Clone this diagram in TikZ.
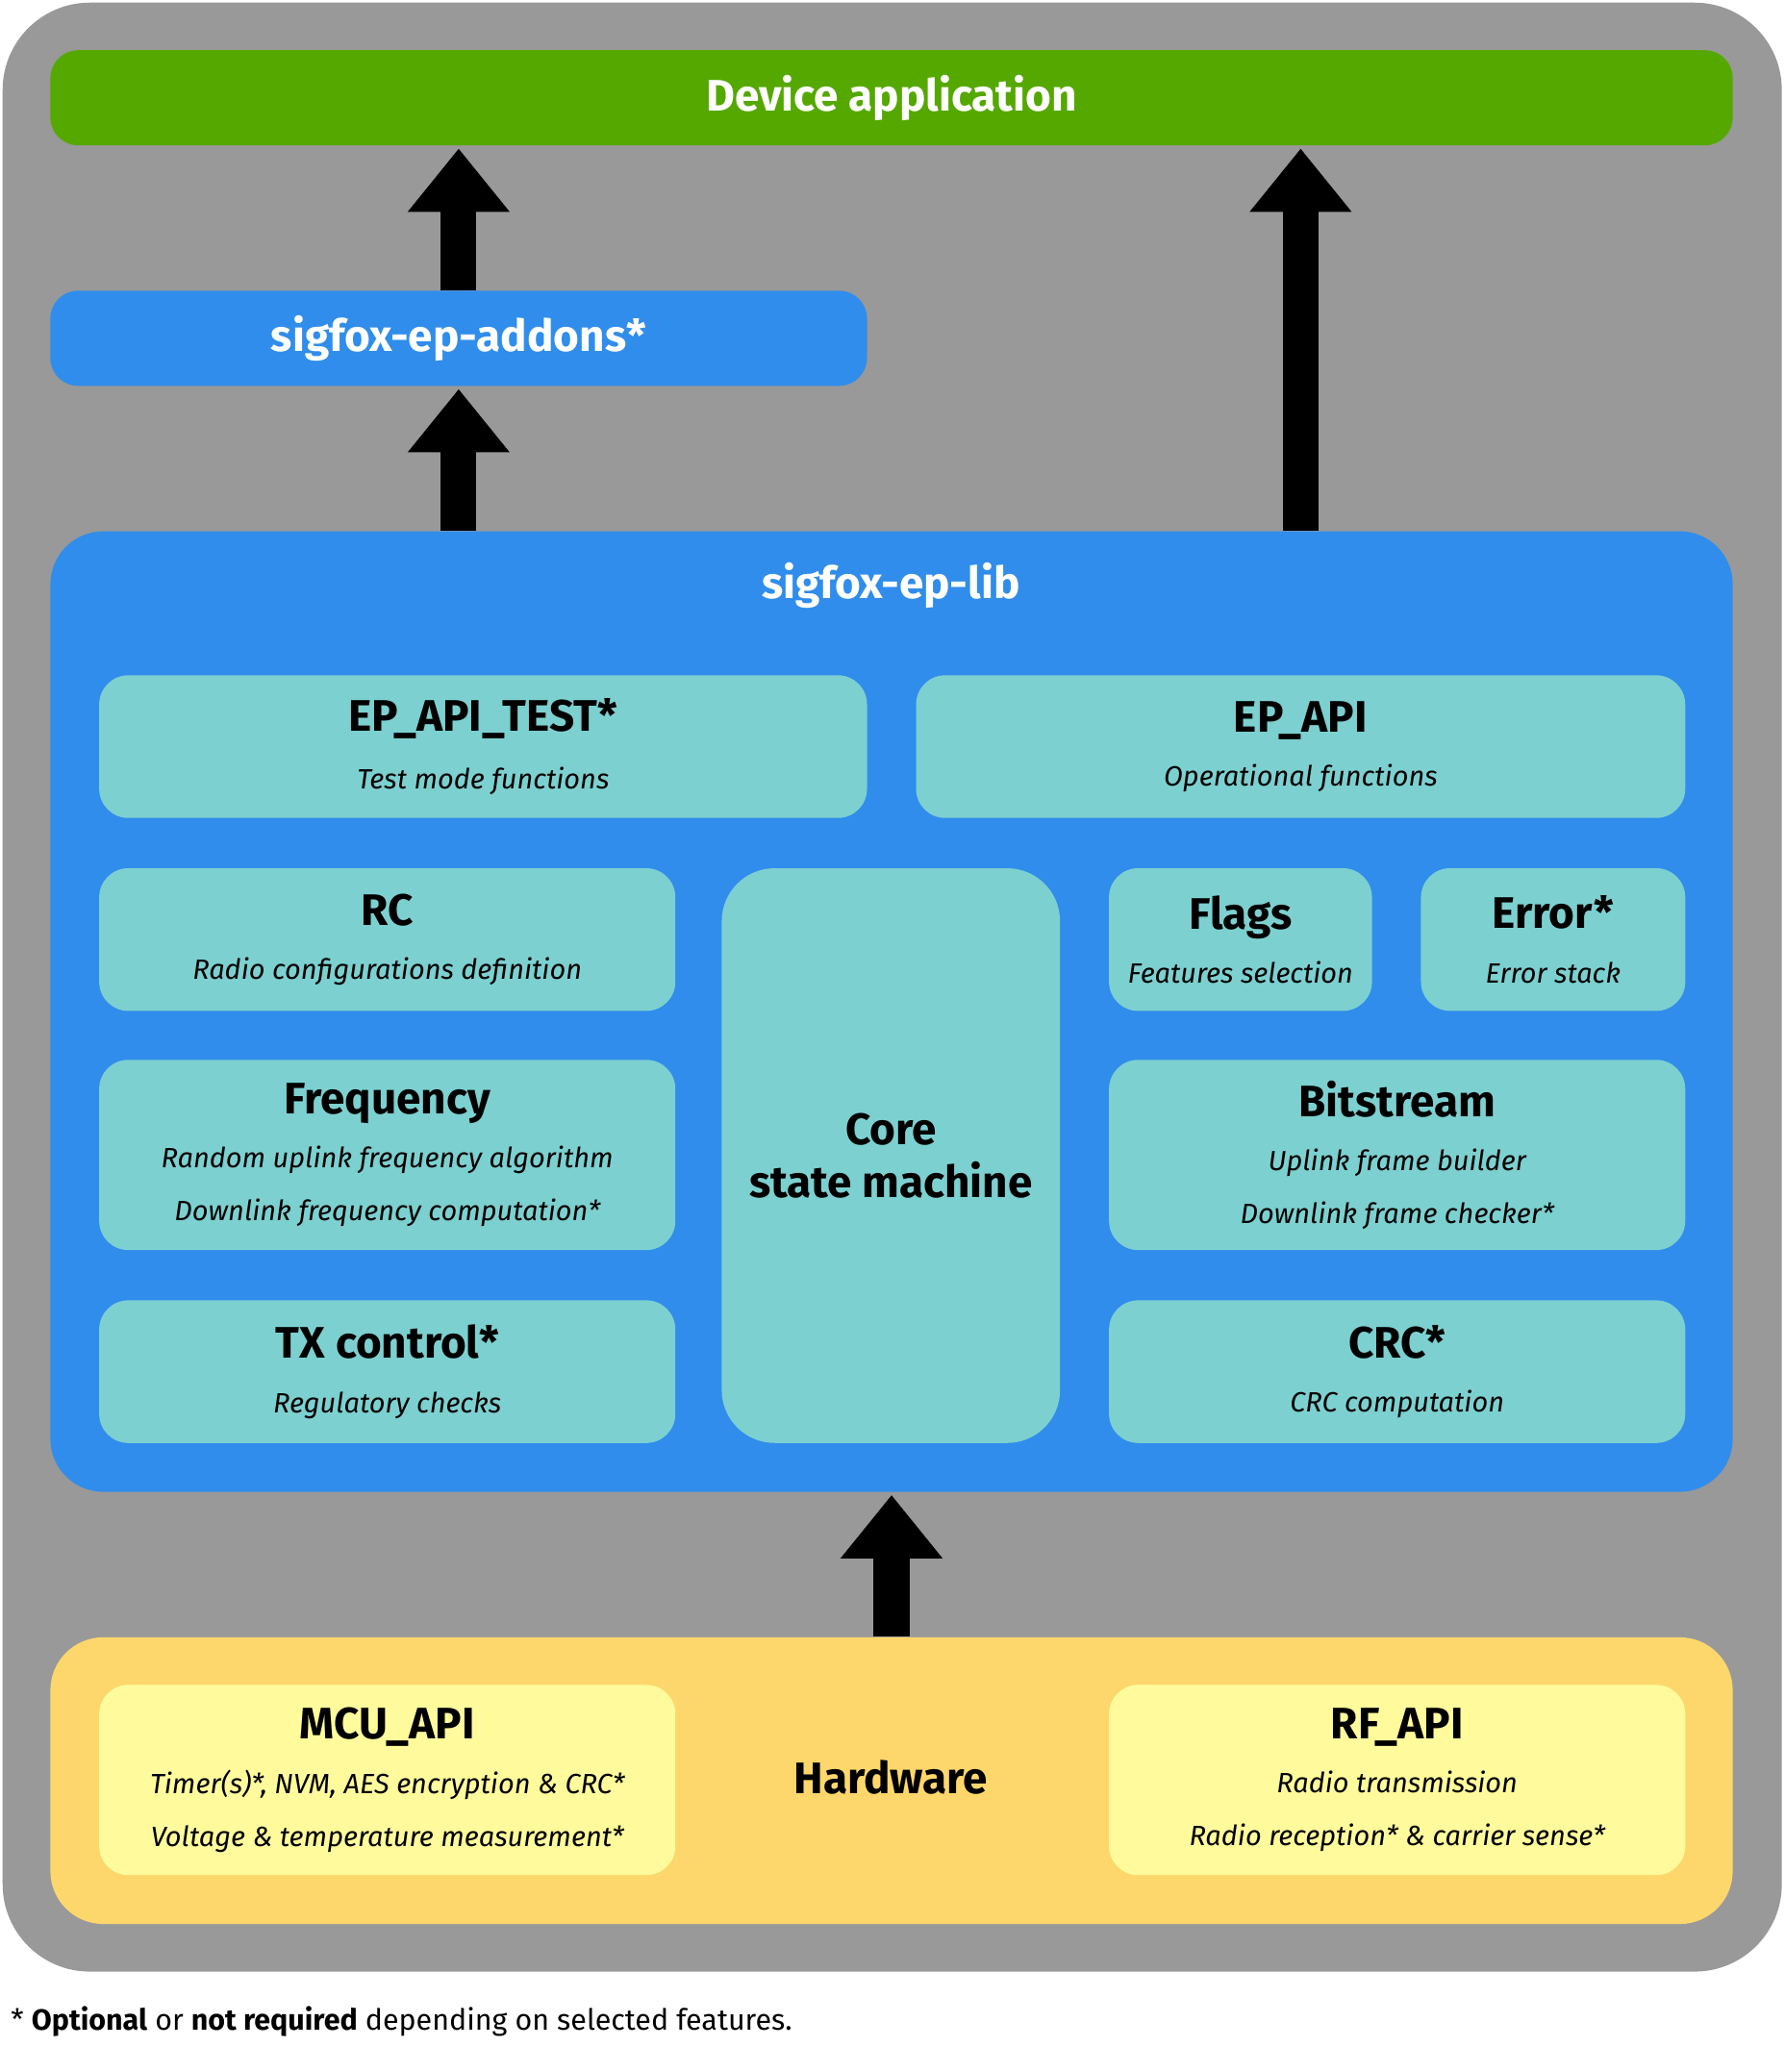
\documentclass[tikz,border=0pt]{standalone}
\usepackage{fontspec}
\setmainfont{Fira Sans}
\usetikzlibrary{arrows.meta}

\definecolor{bggray}{HTML}{999999}
\definecolor{appgreen}{HTML}{55A800}
\definecolor{libblue}{HTML}{308DEB}
\definecolor{partteal}{HTML}{7DD0D0}
\definecolor{hwyellow}{HTML}{FDD76B}
\definecolor{apiyellow}{HTML}{FFFB9C}

\newcommand\blocktitle[1]{{\fontsize{19}{22}\selectfont\upshape\bfseries #1}}

\tikzset{
  box/.style 2 args={rectangle, inner sep=0pt, minimum width=#1, minimum height=#2, align=center},
  layer/.style={fill=#1, rounded corners=0.42cm, text=white, font=\fontsize{19}{22}\selectfont\bfseries},
  part/.style={fill=partteal, rounded corners=0.44cm, font=\fontsize{12}{22.8}\selectfont\itshape},
  api/.style={fill=apiyellow, rounded corners=0.44cm, font=\fontsize{12}{22.8}\selectfont\itshape},
  uparrow/.style={line width=0.54cm, -{Triangle[width=1.48cm, length=0.96cm]}}
}

\begin{document}
\begin{tikzpicture}[x=0.02cm, y=-0.02cm]
  \useasboundingbox (0,0) rectangle (1350,1568);
  \fill[white] (0,0) rectangle (1350,1568);
  \fill[bggray, rounded corners=1.32cm] (2,2) rectangle (1348,1492);

  \node[box={25.46cm}{1.44cm}, layer=appgreen] (app) at (674.5,74) {Device application};
  \node[box={12.36cm}{1.44cm}, layer=libblue] (addons) at (347,256) {sigfox-ep-addons*};

  \node[box={25.46cm}{14.54cm}, fill=libblue, rounded corners=0.8cm] (lib) at (674.5,765.5) {};
  \node[text=white, font=\fontsize{19}{22}\selectfont\bfseries] (libtitle) at (674,443) {sigfox-ep-lib};

  \node[box={11.62cm}{2.16cm}, part] (eptest) at (365.5,565) {\blocktitle{EP\_API\_TEST*}\\[2pt] Test mode functions};
  \node[box={11.64cm}{2.16cm}, part] (epapi) at (984,565) {\blocktitle{EP\_API}\\[0.5pt] Operational functions};

  \node[box={8.72cm}{2.16cm}, part] (rc) at (293,711) {\blocktitle{RC}\\[0.5pt] Radio configurations definition};
  \node[box={5.12cm}{8.70cm}, part, rounded corners=0.8cm, font=\fontsize{19}{22.8}\selectfont\bfseries] (core) at (674,874.5) {Core\\state machine};
  \node[box={3.98cm}{2.16cm}, part] (flags) at (938.5,711) {\blocktitle{Flags}\\[0.5pt] Features selection};
  \node[box={4cm}{2.16cm}, part] (error) at (1175,711) {\blocktitle{Error*}\\[0.5pt] Error stack};

  \node[box={8.72cm}{2.88cm}, part] (freq) at (293,874) {\blocktitle{Frequency}\\[0.5pt] Random uplink frequency algorithm\\ Downlink frequency computation*};
  \node[box={8.72cm}{2.88cm}, part] (bitstream) at (1057,874) {\blocktitle{Bitstream}\\[0.5pt] Uplink frame builder\\ Downlink frame checker*};

  \node[box={8.72cm}{2.16cm}, part] (txctl) at (293,1038) {\blocktitle{TX control*}\\[0.5pt] Regulatory checks};
  \node[box={8.72cm}{2.16cm}, part] (crc) at (1057,1038) {\blocktitle{CRC*}\\[0.5pt] CRC computation};

  \node[box={25.46cm}{4.34cm}, fill=hwyellow, rounded corners=0.8cm] (hw) at (674.5,1347.5) {};
  \node[font=\fontsize{19}{22}\selectfont\bfseries] (hwtitle) at (674,1345) {Hardware};
  \node[box={8.72cm}{2.88cm}, api] (mcu) at (293,1347) {\blocktitle{MCU\_API}\\[0.5pt] Timer(s)*, NVM, AES encryption \& CRC*\\ Voltage \& temperature measurement*};
  \node[box={8.72cm}{2.88cm}, api] (rf) at (1057,1347) {\blocktitle{RF\_API}\\[0.5pt] Radio transmission\\ Radio reception* \& carrier sense*};

  \draw[uparrow] (addons.north) -- ([yshift=-0.04cm]addons.north |- app.south);
  \draw[uparrow] (addons |- lib.north) -- ([yshift=-0.04cm]addons.south);
  \draw[uparrow] (epapi |- lib.north) -- ([yshift=-0.04cm]epapi |- app.south);
  \draw[uparrow] (hw.north) -- ([yshift=-0.04cm]hw.north |- lib.south);

  \node[anchor=west, inner sep=0pt, font=\fontsize{12.6}{16}\selectfont] (note) at (8,1530) {* \textbf{Optional} or \textbf{not required} depending on selected features.};
\end{tikzpicture}
\end{document}
